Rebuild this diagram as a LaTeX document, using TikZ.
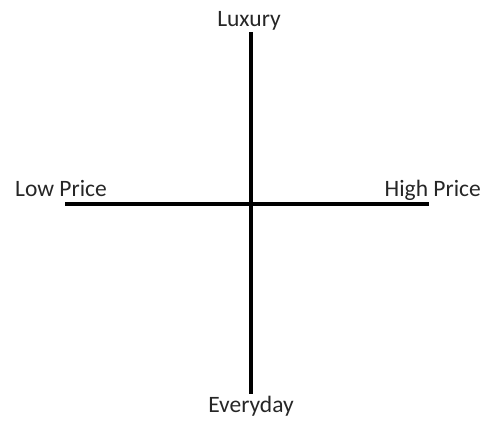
\documentclass[tikz,border=0pt]{standalone}
\usepackage{fontspec}
\setmainfont{Carlito}
\begin{document}
\begin{tikzpicture}[x=1pt,y=-1pt,
  axis/.style={line width=3.6pt,black},
  lbl/.style={inner sep=0pt,font=\fontsize{23.5}{26}\selectfont,text=black!85}]
\useasboundingbox (0,0) rectangle (493,423);
\coordinate (top) at (251,32);
\coordinate (bot) at (251,394);
\coordinate (left) at (65,204);
\coordinate (right) at (429,204);
\draw[axis] (top) -- (bot);
\draw[axis] (left) -- (right);
\node[lbl,anchor=base] (lux) at (249,26.5) {Luxury};
\node[lbl,anchor=base west] (low) at (15,196.5) {Low Price};
\node[lbl,anchor=base east] (high) at (481,196.5) {High Price};
\node[lbl,anchor=base] (every) at (251,412.5) {Everyday};
\end{tikzpicture}
\end{document}
